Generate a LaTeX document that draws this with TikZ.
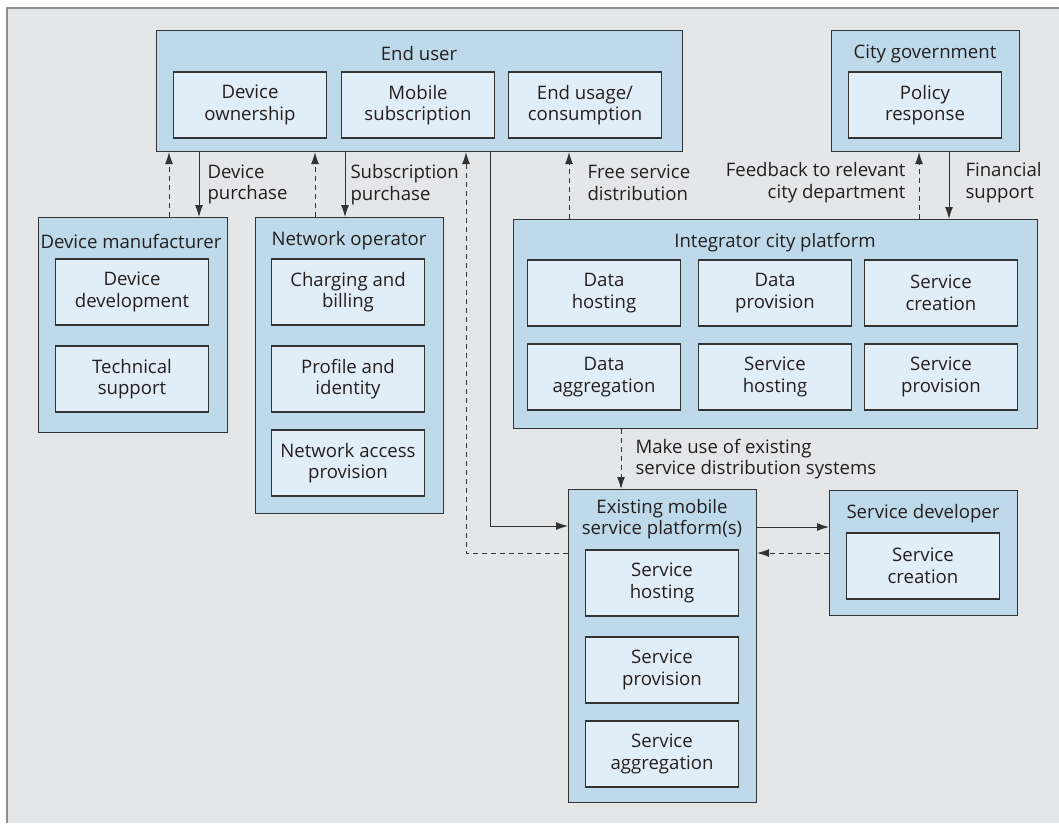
\documentclass[tikz,border=0pt]{standalone}
\usepackage{fontspec}
\setmainfont{Open Sans}
\usetikzlibrary{arrows.meta}
\usetikzlibrary{positioning}

\definecolor{fundo}{HTML}{E5E6E8}
\definecolor{moldura}{HTML}{8E8E90}
\definecolor{azul}{HTML}{BDD9EA}
\definecolor{claro}{HTML}{E2EEF7}
\definecolor{linha}{HTML}{333333}
\definecolor{texto}{HTML}{231F20}

\begin{document}
\begin{tikzpicture}[x=1pt,y=-1pt,
    font=\fontsize{18.6}{21.5}\selectfont, text=texto,
    caixa/.style={draw=linha, fill=azul, line width=1.1pt, anchor=north west, inner sep=0pt},
    sub/.style={draw=linha, fill=claro, line width=1.1pt, minimum width=153pt, minimum height=66pt, align=center, inner sep=0pt},
    titulo/.style={align=center, inner sep=0pt},
    rotulo/.style={inner sep=0pt},
    seta/.style={draw=linha, line width=1pt, -{Latex[length=12pt,width=8pt]}},
    tracejada/.style={seta, dash pattern=on 5pt off 4pt}]

\useasboundingbox (0,0) rectangle (1059,823);

% moldura
\fill[fundo] (7,8) rectangle (1059,823);
\draw[moldura, line width=1.4pt] (7,823) -- (7,8) -- (1059,8);

% caixas externas
\node[caixa, minimum width=526pt, minimum height=121pt] (enduser) at (156,30) {};
\node[caixa, minimum width=188pt, minimum height=121pt] (citygov) at (831,30) {};
\node[caixa, minimum width=189pt, minimum height=215pt] (devman) at (38,217) {};
\node[caixa, minimum width=188pt, minimum height=296pt] (netop) at (255,217) {};
\node[caixa, minimum width=524pt, minimum height=209pt] (integ) at (513,219) {};
\node[caixa, minimum width=188pt, minimum height=313pt] (existing) at (568,489) {};
\node[caixa, minimum width=188pt, minimum height=125pt] (servdev) at (829,490) {};

% titulos
\node[titulo] (enduser-t) at (419,54) {End user};
\node[titulo] (citygov-t) at (925,54) {City government};
\node[titulo] (devman-t) at (131,241) {Device manufacturer};
\node[titulo] (netop-t) at (349,241) {Network operator};
\node[titulo] (integ-t) at (775,243) {Integrator city platform};
\node[titulo] (existing-t) at (662,519) {Existing mobile\\service platform(s)};
\node[titulo] (servdev-t) at (923,514) {Service developer};

% caixas internas
\node[sub] (ownership) at (250,105) {Device\\ownership};
\node[sub] (subscr) at (418,105) {Mobile\\subscription};
\node[sub] (usage) at (585,105) {End usage/\\consumption};
\node[sub] (policy) at (925,105) {Policy\\response};

\node[sub] (devdev) at (132,292) {Device\\development};
\node[sub] (techsup) at (132,379) {Technical\\support};

\node[sub] (charging) at (348,292) {Charging and\\billing};
\node[sub] (profile) at (348,379) {Profile and\\identity};
\node[sub] (netaccess) at (348,463) {Network access\\provision};

\node[sub] (datahost) at (604,293) {Data\\hosting};
\node[sub] (dataprov) at (775,293) {Data\\provision};
\node[sub] (icreat) at (941,293) {Service\\creation};
\node[sub] (dataagg) at (604,377) {Data\\aggregation};
\node[sub] (ihost) at (775,377) {Service\\hosting};
\node[sub] (iprov) at (941,377) {Service\\provision};

\node[sub] (ehost) at (662,583) {Service\\hosting};
\node[sub] (eprov) at (662,670) {Service\\provision};
\node[sub] (eagg) at (662,754) {Service\\aggregation};

\node[sub] (screat) at (923,566) {Service\\creation};

% setas
\draw[tracejada] ([xshift=13pt]enduser.south west |- devman.north) -- ([xshift=13pt]enduser.south west);
\draw[seta] ([xshift=43pt]enduser.south west) -- node[rotulo, right=8pt, align=left] (l-device) {Device\\purchase} ([xshift=43pt]enduser.south west |- devman.north);

\draw[tracejada] ([xshift=159pt]enduser.south west |- netop.north) -- ([xshift=159pt]enduser.south west);
\draw[seta] ([xshift=189pt]enduser.south west) -- node[rotulo, right=5pt, align=left] (l-subscr) {Subscription\\purchase} ([xshift=189pt]enduser.south west |- netop.north);

\draw[tracejada] ([yshift=-64pt]existing.north west) -| ([xshift=310pt]enduser.south west);
\draw[seta] ([xshift=334pt]enduser.south west) |- ([yshift=-37pt]existing.north west);

\draw[tracejada] ([xshift=413pt]enduser.south west |- integ.north) -- node[rotulo, right=18pt, align=left, yshift=3pt] (l-free) {Free service\\distribution} ([xshift=413pt]enduser.south west);

\draw[tracejada] ([xshift=88pt]citygov.south west |- integ.north) -- node[rotulo, left=13pt, align=right, yshift=3pt] (l-feedback) {Feedback to relevant\\city department} ([xshift=88pt]citygov.south west);
\draw[seta] ([xshift=118pt]citygov.south west) -- node[rotulo, right=16pt, align=left, yshift=3pt] (l-fin) {Financial\\support} ([xshift=118pt]citygov.south west |- integ.north);

\draw[tracejada] ([xshift=108pt]integ.south west) -- node[rotulo, right=14pt, align=left] (l-make) {Make use of existing\\service distribution systems} ([xshift=108pt]integ.south west |- existing.north);

\draw[seta] ([yshift=-38pt]existing.north east) -- ([yshift=-38pt]existing.north east -| servdev.west);
\draw[tracejada] ([yshift=-64pt]existing.north east -| servdev.west) -- ([yshift=-64pt]existing.north east);

\end{tikzpicture}
\end{document}
